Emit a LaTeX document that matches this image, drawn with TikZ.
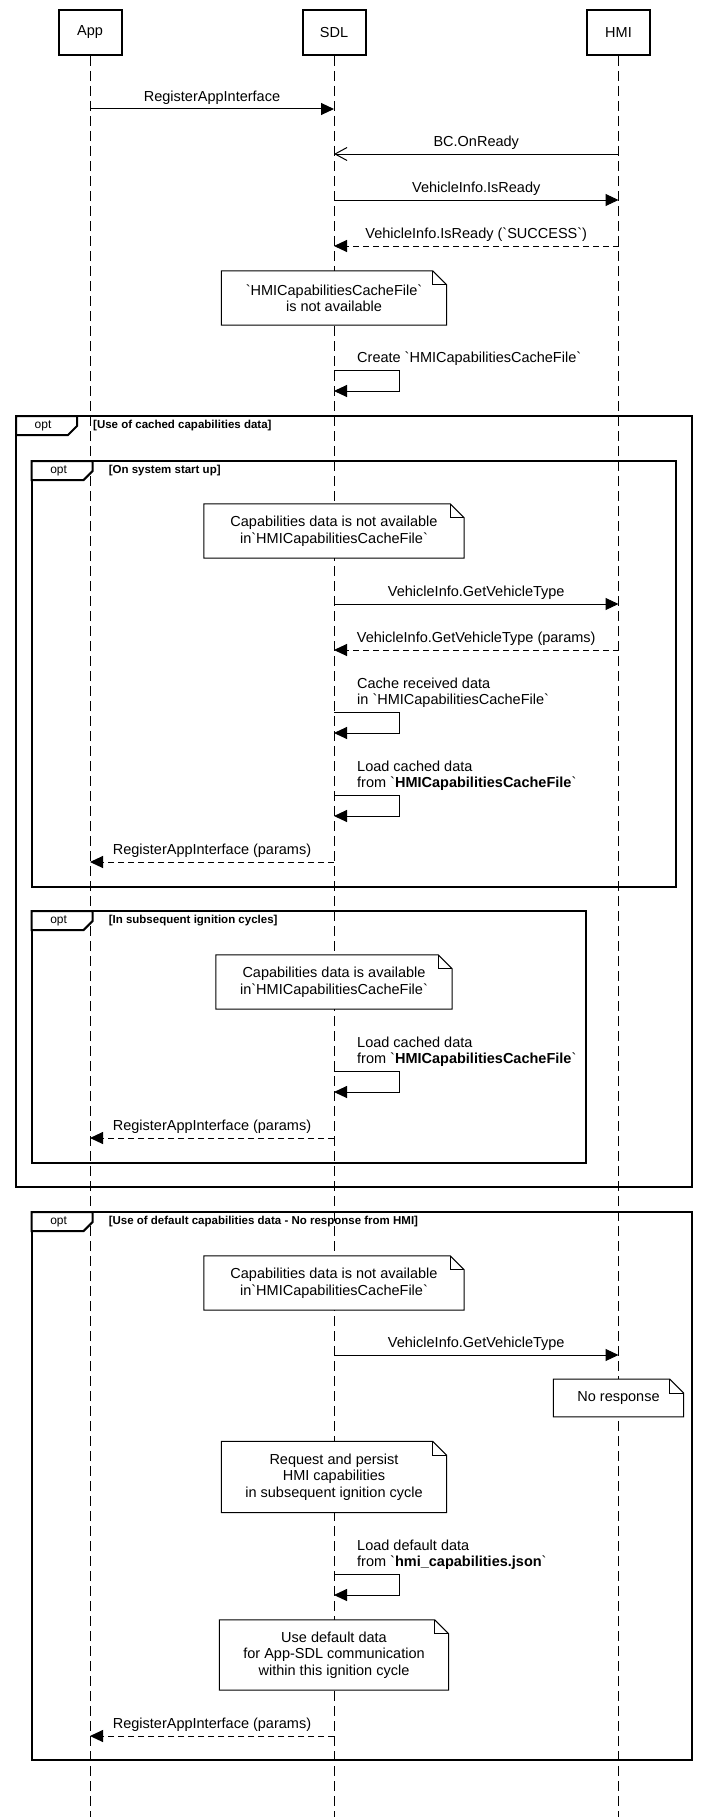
\documentclass[tikz,border=0pt]{standalone}
\usepackage{fontspec}
\setmainfont{Liberation Sans}[Ligatures=TeXOff]
\usetikzlibrary{arrows.meta, calc}

\tikzset{
  actor/.style={draw, line width=2pt, minimum width=63pt, minimum height=45pt, inner sep=0pt},
  lifeline/.style={line width=0.9pt, dash pattern=on 10pt off 5pt},
  msg/.style={line width=1pt, -{Triangle[length=13pt, width=12pt]}},
  async/.style={line width=1pt, -{Straight Barb[length=12pt, width=13pt]}},
  reply/.style={msg, dash pattern=on 6pt off 4pt},
  lbl/.style={inner sep=0pt, text height=10.5pt, text depth=3.5pt, above=3.5pt},
  selflbl/.style={inner sep=0pt, anchor=south west, align=left},
  note/.style={fill=white, inner sep=0pt, align=center},
  notebox/.style={line width=1pt},
  optbox/.style={draw, line width=2pt, inner sep=0pt, outer sep=0pt},
  optlbl/.style={font=\fontsize{12}{14}\selectfont, inner sep=0pt},
  guard/.style={font=\fontsize{11.5}{14}\selectfont\bfseries, anchor=west, inner sep=0pt}
}

% folded corner of a note
\newcommand{\notefold}[1]{%
  \draw[notebox] (#1.north west) -- ([xshift=-14pt]#1.north east) -- ([yshift=-14pt]#1.north east) -- (#1.south east) -- (#1.south west) -- cycle;
  \draw[notebox] ([xshift=-14pt]#1.north east) |- ([yshift=-14pt]#1.north east);
}

% opt fragment: name, x, y, width, height, guard
\newcommand{\optframe}[6]{%
  \node[optbox, minimum width=#4pt, minimum height=#5pt, anchor=north west] (#1) at (#2,#3) {};
  \draw[line width=2pt, fill=white] (#1.north west) -- ++(61,0) -- ++(0,10) -- ++(-9,9) -- ++(-52,0) -- cycle;
  \node[optlbl] (#1-tag) at ($(#1.north west)+(27,9.5)$) {opt};
  \node[guard] (#1-guard) at ($(#1.north west)+(77,9.5)$) {[#6]};
}

\begin{document}
\begin{tikzpicture}[x=1pt, y=-1pt, font=\fontsize{14.5}{16.5}\selectfont]
  \useasboundingbox (0,0) rectangle (708,1817);

  % Participants
  \node[actor] (app) at (90,32.5) {App};
  \node[actor] (sdl) at (334,32.5) {SDL};
  \node[actor] (hmi) at (618.5,32.5) {HMI};

  \draw[lifeline] (app.south) -- (app |- 0,1817);
  \draw[lifeline] (sdl.south) -- (sdl |- 0,1817);
  \draw[lifeline] (hmi.south) -- (hmi |- 0,1817);

  % Start up
  \draw[msg] (app |- 0,109) -- node[lbl] {RegisterAppInterface} (sdl |- 0,109);
  \draw[async] (hmi |- 0,154) -- node[lbl] {BC.OnReady} (sdl |- 0,154);
  \draw[msg] (sdl |- 0,200) -- node[lbl] {VehicleInfo.IsReady} (hmi |- 0,200);
  \draw[reply] (hmi |- 0,246) -- node[lbl] {VehicleInfo.IsReady (`SUCCESS`)} (sdl |- 0,246);

  \node[note, minimum width=225pt, minimum height=54pt] (n1) at (334,298) {`HMICapabilitiesCacheFile`\\is not available};
  \notefold{n1}

  \node[selflbl] (s1) at ($(sdl |- 0,370)+(23,-2)$) {Create `HMICapabilitiesCacheFile`\strut};
  \draw[msg] (sdl |- 0,370) -- ++(65,0) -- ++(0,21) -- (sdl |- 0,391);

  % Cached capabilities
  \optframe{fA}{16}{416}{676}{771}{Use of cached capabilities data}

  % On system start up
  \optframe{fB}{31.6}{461}{644.4}{426}{On system start up}

  \node[note, minimum width=260pt, minimum height=54pt] (n2) at (334,531) {Capabilities data is not available\\in`HMICapabilitiesCacheFile`};
  \notefold{n2}

  \draw[msg] (sdl |- 0,604) -- node[lbl] {VehicleInfo.GetVehicleType} (hmi |- 0,604);
  \draw[reply] (hmi |- 0,650) -- node[lbl] {VehicleInfo.GetVehicleType (params)} (sdl |- 0,650);

  \node[selflbl] (s2) at ($(sdl |- 0,712)+(23,-2)$) {Cache received data\\in `HMICapabilitiesCacheFile`\strut};
  \draw[msg] (sdl |- 0,712) -- ++(65,0) -- ++(0,21) -- (sdl |- 0,733);

  \node[selflbl] (s3) at ($(sdl |- 0,795)+(23,-2)$) {Load cached data\\from `\textbf{HMICapabilitiesCacheFile}`\strut};
  \draw[msg] (sdl |- 0,795) -- ++(65,0) -- ++(0,21) -- (sdl |- 0,816);

  \draw[reply] (sdl |- 0,862) -- node[lbl] {RegisterAppInterface (params)} (app |- 0,862);

  % Subsequent ignition cycles
  \optframe{fC}{31.6}{911}{554}{252}{In subsequent ignition cycles}

  \node[note, minimum width=236pt, minimum height=54pt] (n3) at (334,982) {Capabilities data is available\\in`HMICapabilitiesCacheFile`};
  \notefold{n3}

  \node[selflbl] (s4) at ($(sdl |- 0,1071)+(23,-2)$) {Load cached data\\from `\textbf{HMICapabilitiesCacheFile}`\strut};
  \draw[msg] (sdl |- 0,1071) -- ++(65,0) -- ++(0,21) -- (sdl |- 0,1092);

  \draw[reply] (sdl |- 0,1138) -- node[lbl] {RegisterAppInterface (params)} (app |- 0,1138);

  % Default capabilities
  \optframe{fD}{31.6}{1212}{660.4}{548}{Use of default capabilities data - No response from HMI}

  \node[note, minimum width=260pt, minimum height=54pt] (n4) at (334,1283) {Capabilities data is not available\\in`HMICapabilitiesCacheFile`};
  \notefold{n4}

  \draw[msg] (sdl |- 0,1355) -- node[lbl] {VehicleInfo.GetVehicleType} (hmi |- 0,1355);

  \node[note, minimum width=130pt, minimum height=37.5pt] (n5) at (618.5,1398) {No response};
  \notefold{n5}

  \node[note, minimum width=225pt, minimum height=71pt] (n6) at (334,1477) {Request and persist\\HMI capabilities\\in subsequent ignition cycle};
  \notefold{n6}

  \node[selflbl] (s5) at ($(sdl |- 0,1574)+(23,-2)$) {Load default data\\from `\textbf{hmi\_capabilities.json}`\strut};
  \draw[msg] (sdl |- 0,1574) -- ++(65,0) -- ++(0,21) -- (sdl |- 0,1595);

  \node[note, minimum width=229pt, minimum height=70pt] (n7) at (334,1655) {Use default data\\for App-SDL communication\\within this ignition cycle};
  \notefold{n7}

  \draw[reply] (sdl |- 0,1736) -- node[lbl] {RegisterAppInterface (params)} (app |- 0,1736);
\end{tikzpicture}
\end{document}
